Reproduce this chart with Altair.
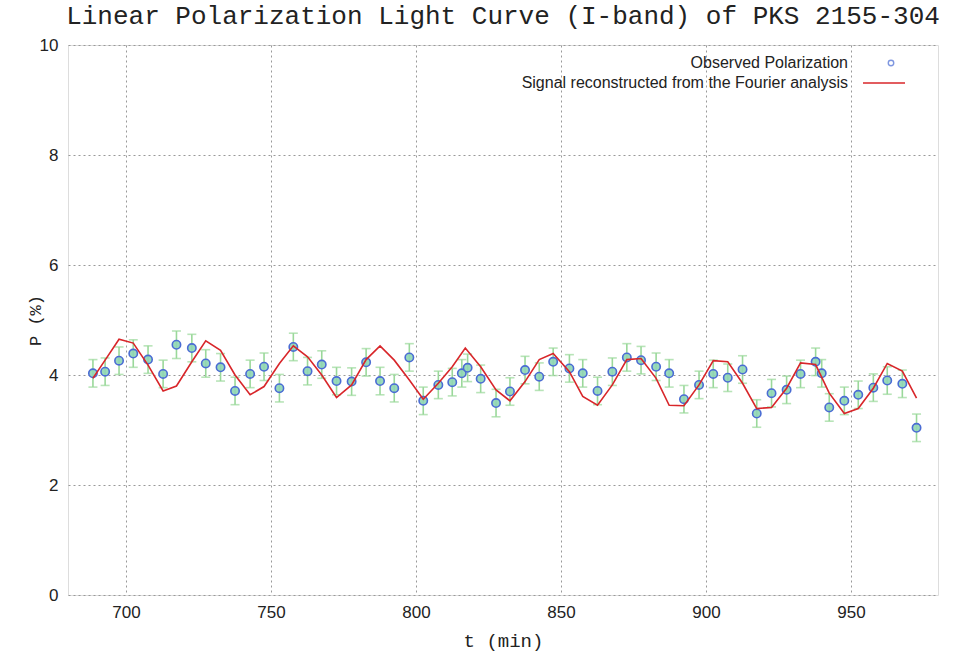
import altair as alt
import pandas as pd

# Observations
t_obs = [688.6, 692.8, 697.6, 702.5, 707.6, 712.8, 717.4, 722.7, 727.5, 732.6, 737.6,
         742.8, 747.6, 752.9, 757.7, 762.6, 767.5, 772.6, 777.8, 782.8, 787.6, 792.5, 797.7,
         802.5, 807.7, 812.5, 815.8, 817.8, 822.3, 827.6, 832.4, 837.6, 842.5, 847.3, 852.9, 857.5,
         862.6, 867.7, 872.7, 877.6, 882.8, 887.3, 892.4, 897.6, 902.5, 907.5, 912.6, 917.5,
         922.6, 927.8, 932.6, 937.8, 939.9, 942.5, 947.7, 952.5, 957.7, 962.5, 967.7, 972.6]
p_obs = [4.03, 4.06, 4.26, 4.39, 4.28, 4.02, 4.55, 4.49, 4.21, 4.14, 3.71,
         4.02, 4.15, 3.76, 4.51, 4.07, 4.19, 3.89, 3.88, 4.23, 3.89, 3.76, 4.32,
         3.53, 3.82, 3.87, 4.03, 4.13, 3.93, 3.49, 3.70, 4.09, 3.97, 4.24, 4.12, 4.03,
         3.71, 4.06, 4.32, 4.27, 4.15, 4.03, 3.56, 3.82, 4.02, 3.95, 4.10, 3.30,
         3.67, 3.73, 4.02, 4.24, 4.03, 3.41, 3.53, 3.64, 3.77, 3.90, 3.84, 3.04]
p_err = [0.25] * len(t_obs)

# Fourier reconstruction
t_fit = [688.6, 692.8, 697.6, 702.5, 707.6, 712.8, 717.4, 722.7, 727.5, 732.6, 737.6,
         742.8, 747.6, 752.9, 757.7, 762.6, 767.5, 772.6, 777.8, 782.8, 787.6, 792.5, 797.7,
         802.5, 807.7, 812.5, 817.0, 822.3, 827.6, 832.4, 837.6, 842.5, 847.3, 852.9, 857.5,
         862.6, 867.7, 872.7, 877.6, 882.8, 887.3, 892.4, 897.6, 902.5, 907.5, 912.6, 917.5,
         922.6, 927.8, 932.6, 937.8, 942.5, 947.7, 952.5, 957.7, 962.5, 967.7, 972.6]
p_fit = [3.94, 4.27, 4.65, 4.58, 4.18, 3.71, 3.80, 4.24, 4.62, 4.45, 4.00,
         3.64, 3.79, 4.21, 4.53, 4.33, 4.00, 3.59, 3.82, 4.28, 4.53, 4.27, 3.91,
         3.56, 3.85, 4.15, 4.49, 4.15, 3.73, 3.53, 3.88, 4.28, 4.39, 4.06, 3.61,
         3.45, 3.82, 4.28, 4.30, 3.94, 3.45, 3.44, 3.82, 4.26, 4.24, 3.85, 3.39,
         3.41, 3.76, 4.22, 4.19, 3.67, 3.30, 3.39, 3.76, 4.21, 4.07, 3.58]

x_ticks = [700, 750, 800, 850, 900, 950]
y_ticks = [0, 2, 4, 6, 8, 10]

obs = pd.DataFrame({"t": t_obs, "p": p_obs, "err": p_err})
obs["lo"] = obs["p"] - obs["err"]
obs["hi"] = obs["p"] + obs["err"]
fit = pd.DataFrame({"t": t_fit, "p": p_fit})

W, H = 870, 550

xscale = alt.Scale(domain=[680, 980], nice=False, zero=False)
yscale = alt.Scale(domain=[0, 10], nice=False)

xaxis = alt.Axis(values=x_ticks, title="t (min)", titleFont="Liberation Mono",
                 titleFontSize=19, titleFontWeight="normal", titleColor="#222",
                 titleX=W / 2, titleY=45, titleBaseline="middle",
                 labelFont="Liberation Sans", labelFontSize=17, labelColor="#222",
                 labelPadding=9, ticks=False, domain=False,
                 grid=True, gridDash=[2, 3], gridColor="#999", gridWidth=1)
yaxis = alt.Axis(values=y_ticks, title="P (%)", titleFont="Liberation Mono",
                 titleFontSize=17, titleFontWeight="normal", titleColor="#222",
                 titleX=-33, titleY=H / 2, titleAlign="center", titleBaseline="middle",
                 labelFont="Liberation Sans", labelFontSize=17, labelColor="#222",
                 labelPadding=10, ticks=False, domain=False,
                 grid=True, gridDash=[2, 3], gridColor="#999", gridWidth=1)

base = alt.Chart(obs)

bars = base.mark_rule(color="#9ad89a", strokeWidth=1.6).encode(
    x=alt.X("t:Q", scale=xscale, axis=xaxis),
    y=alt.Y("lo:Q", scale=yscale, axis=yaxis),
    y2="hi:Q",
)
caps_lo = base.mark_tick(color="#9ad89a", thickness=1.6, size=9, orient="horizontal").encode(
    x=alt.X("t:Q", scale=xscale), y=alt.Y("lo:Q", scale=yscale))
caps_hi = base.mark_tick(color="#9ad89a", thickness=1.6, size=9, orient="horizontal").encode(
    x=alt.X("t:Q", scale=xscale), y=alt.Y("hi:Q", scale=yscale))

points = base.mark_point(shape="circle", size=70, filled=False, stroke="#4a6cd4",
                         strokeWidth=1.6, fill="#8fd6b4", fillOpacity=0.9).encode(
    x=alt.X("t:Q", scale=xscale), y=alt.Y("p:Q", scale=yscale))

line = alt.Chart(fit).mark_line(color="#d8262a", strokeWidth=1.6).encode(
    x=alt.X("t:Q", scale=xscale), y=alt.Y("p:Q", scale=yscale))

one = pd.DataFrame({"a": [0]})
leg_txt1 = alt.Chart(one).mark_text(text="Observed Polarization", align="right",
                                    baseline="middle", font="Liberation Sans",
                                    fontSize=16, color="#222").encode(
    x=alt.value(780), y=alt.value(18))
leg_txt2 = alt.Chart(one).mark_text(text="Signal reconstructed from the Fourier analysis",
                                    align="right", baseline="middle",
                                    font="Liberation Sans", fontSize=16,
                                    color="#222").encode(
    x=alt.value(780), y=alt.value(38))
leg_pt = alt.Chart(one).mark_point(shape="circle", size=30, filled=False,
                                   stroke="#4a6cd4", strokeWidth=1.4).encode(
    x=alt.value(823), y=alt.value(18))
leg_line = alt.Chart(one).mark_rule(color="#d8262a", strokeWidth=1.6).encode(
    x=alt.value(795), x2=alt.value(837), y=alt.value(38))

chart = alt.layer(
    bars, caps_lo, caps_hi, points, line, leg_txt1, leg_txt2, leg_pt, leg_line
).properties(
    width=W, height=H,
    title=alt.TitleParams(
        "Linear Polarization Light Curve (I-band) of PKS 2155-304",
        font="Liberation Mono", fontSize=26, fontWeight="normal", color="#222",
        anchor="middle", offset=7),
    autosize=alt.AutoSizeParams(type="none"),
    padding={"left": 68, "top": 45, "right": 27, "bottom": 60},
).configure_view(stroke="#222", strokeWidth=1.5).configure(background="white")

chart.save("out.html", embed_options={"renderer": "svg", "actions": False})
